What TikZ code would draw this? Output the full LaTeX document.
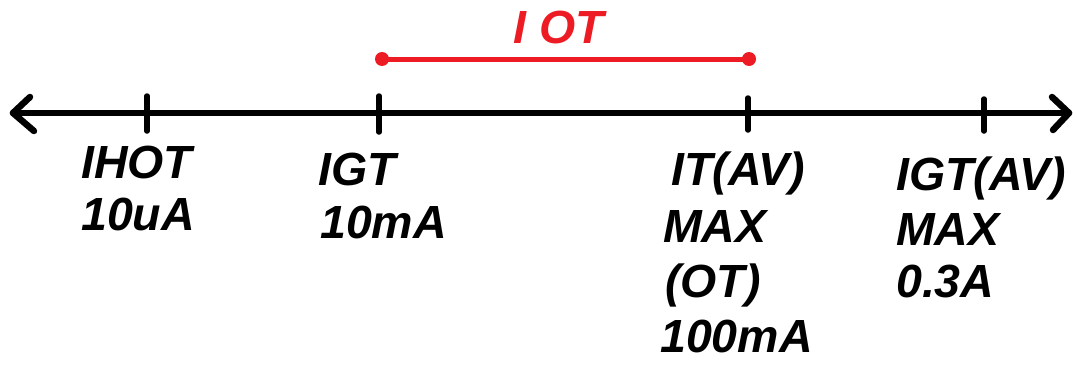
\documentclass[tikz,border=0pt]{standalone}
\usepackage{fontspec}
\setmainfont{Liberation Sans}
\definecolor{redline}{RGB}{237,28,36}
\begin{document}
\begin{tikzpicture}[x=1pt,y=-1pt,
  axisline/.style={line width=6.5pt,line cap=round,line join=round},
  tickline/.style={line width=5.5pt,line cap=round},
  redseg/.style={redline,line width=5pt},
  reddot/.style={circle,fill=redline,inner sep=0pt,minimum size=14pt},
  lbl/.style={anchor=base west,inner sep=0pt,font=\fontsize{46.5}{54}\selectfont\bfseries\itshape},
  redlbl/.style={lbl,text=redline}]
\useasboundingbox (0,0) rectangle (1077,367);
% axis
\coordinate (L) at (13,113);
\coordinate (R) at (1069,113);
\draw[axisline] (L) -- (R);
\draw[axisline] (30,97) -- (L) -- (34,131);
\draw[axisline] (1052,97) -- (R) -- (1053,130);
% ticks
\coordinate (t1a) at (147,96); \coordinate (t1b) at (147,131);
\coordinate (t2a) at (379,96); \coordinate (t2b) at (379,132);
\coordinate (t3a) at (748,98); \coordinate (t3b) at (748,130);
\coordinate (t4a) at (984,99); \coordinate (t4b) at (984,131);
\draw[tickline] (t1a) -- (t1b);
\draw[tickline] (t2a) -- (t2b);
\draw[tickline] (t3a) -- (t3b);
\draw[tickline] (t4a) -- (t4b);
% red range
\node[reddot] (d1) at (382,59) {};
\node[reddot] (d2) at (749,59) {};
\draw[redseg] (d1.center) -- (d2.center);
\node[redlbl] (iot) at (513,43) {I OT};
% labels
\node[lbl] (ihot1) at (81,178) {IHOT};
\node[lbl] (ihot2) at (81,230) {10uA};
\node[lbl] (igt1) at (318,185) {IGT};
\node[lbl] (igt2) at (320,238) {10mA};
\node[lbl] (itav1) at (671,185) {IT(AV)};
\node[lbl] (itav2) at (663,242) {MAX};
\node[lbl] (itav3) at (665,297) {(OT)};
\node[lbl] (itav4) at (660,352) {100mA};
\node[lbl] (igtav1) at (896,190) {IGT(AV)};
\node[lbl] (igtav2) at (896,245) {MAX};
\node[lbl] (igtav3) at (896,297) {0.3A};
\end{tikzpicture}
\end{document}
